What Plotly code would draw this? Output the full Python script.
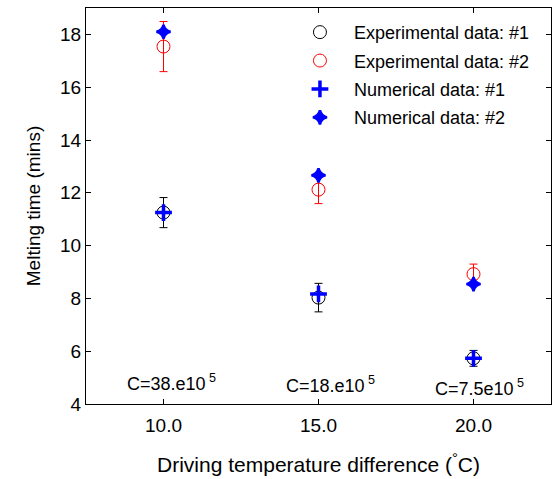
import plotly.graph_objects as go

# Driving temperature difference (°C)
temp_diff = [10.0, 15.0, 20.0]

# Experimental melting times (mins) and their uncertainties
exp1 = [11.25, 8.03, 5.73]
exp1_err = [0.57, 0.54, 0.30]
exp2 = [17.54, 12.12, 8.92]
exp2_err = [0.95, 0.53, 0.38]

# Numerical melting times (mins)
num1 = [11.25, 8.17, 5.73]
num2 = [18.10, 12.66, 8.54]

# Labels placed near the bottom of each group
c_labels = ["C=38.e10<sup> 5</sup>", "C=18.e10<sup> 5</sup>", "C=7.5e10<sup> 5</sup>"]
c_label_x = [8.77, 13.9, 18.68]
c_label_y = [4.83, 4.72, 4.64]

FONT = "Liberation Sans, Arial, Helvetica, sans-serif"

fig = go.Figure()

fig.add_trace(go.Scatter(
    x=temp_diff, y=exp1, mode="markers", name="Experimental data: #1",
    legendgroup="a",
    marker=dict(symbol="circle-open", size=13, color="black", line=dict(width=1)),
    error_y=dict(type="data", array=exp1_err, color="black", thickness=1, width=4),
))
fig.add_trace(go.Scatter(
    x=temp_diff, y=exp2, mode="markers", name="Experimental data: #2",
    legendgroup="b",
    marker=dict(symbol="circle-open", size=13, color="red", line=dict(width=1)),
    error_y=dict(type="data", array=exp2_err, color="red", thickness=1, width=4),
))
fig.add_trace(go.Scatter(
    x=temp_diff, y=num1, mode="markers", name="Numerical data: #1",
    legendgroup="c",
    marker=dict(symbol="cross-thin", size=12, color="blue", line=dict(width=3.5, color="blue")),
))
fig.add_trace(go.Scatter(
    x=temp_diff, y=num2, mode="markers", name="Numerical data: #2",
    legendgroup="d",
    marker=dict(symbol="star-diamond", size=10, color="blue", line=dict(width=2.5, color="blue")),
))

for lx, ly, txt in zip(c_label_x, c_label_y, c_labels):
    fig.add_annotation(x=lx, y=ly, text=txt, showarrow=False, xanchor="left",
                       yanchor="middle", font=dict(size=18, color="black", family=FONT))

axis_common = dict(
    showline=True, linecolor="black", linewidth=1, mirror="ticks",
    ticks="inside", ticklen=5, tickwidth=1, tickcolor="black",
    showgrid=False, zeroline=False,
    tickfont=dict(size=19, color="black", family=FONT),
)

fig.update_xaxes(
    range=[7.5, 22.5], tickvals=temp_diff, ticktext=["10.0", "15.0", "20.0"],
    ticklabelstandoff=4,
    title=dict(text="Driving temperature difference (<sup>°</sup>C)",
               font=dict(size=21, color="black", family=FONT), standoff=22),
    **axis_common,
)
fig.update_yaxes(
    range=[4, 19], tickvals=[4, 6, 8, 10, 12, 14, 16, 18],
    title=dict(text="Melting time (mins)",
               font=dict(size=19, color="black", family=FONT), standoff=14),
    **axis_common,
)

fig.update_layout(
    width=552, height=479,
    margin=dict(l=86, r=1, t=8, b=75),
    paper_bgcolor="white", plot_bgcolor="white",
    font=dict(family=FONT, color="black"),
    showlegend=True,
    legend=dict(x=0.43, y=0.985, xanchor="left", yanchor="top",
                bgcolor="rgba(0,0,0,0)", borderwidth=0,
                font=dict(size=18, family=FONT, color="black"),
                itemwidth=58, tracegroupgap=2),
)

fig.write_html("out.html")
